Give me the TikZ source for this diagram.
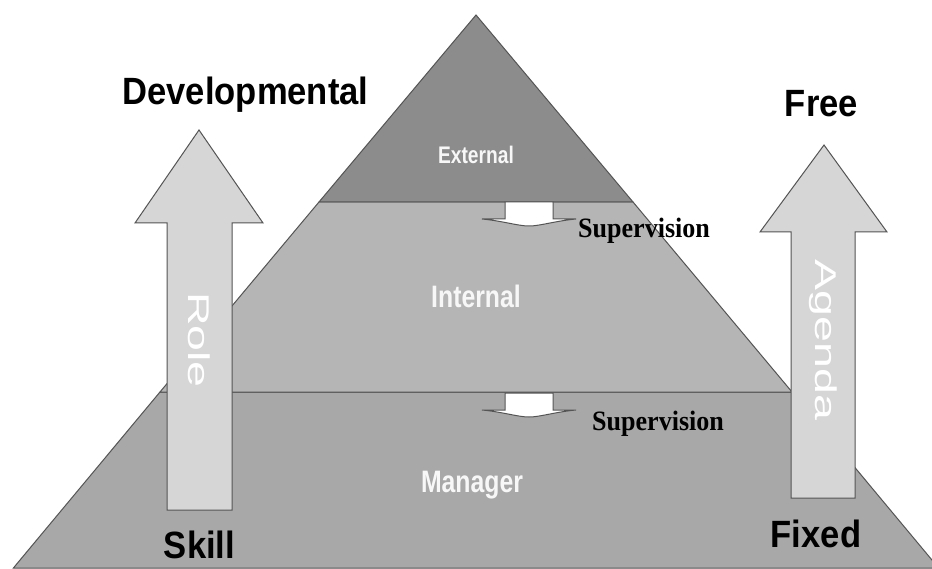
\documentclass[tikz,border=0pt]{standalone}
\usepackage{fontspec}
\usepackage{xcolor}
\usetikzlibrary{positioning}
\setmainfont{Liberation Sans}
\newfontfamily\polefont{Liberation Sans}[FakeStretch=0.91]
\newfontfamily\layerfont{Liberation Sans}[FakeStretch=0.8]
\newfontfamily\axisfont{Liberation Sans}[FakeStretch=1.55]
\newfontfamily\supfont{Liberation Serif}[FakeStretch=0.93]
\definecolor{extgray}{gray}{0.55}
\definecolor{intgray}{gray}{0.71}
\definecolor{mgrgray}{gray}{0.66}
\definecolor{arrowgray}{gray}{0.84}
\definecolor{edgegray}{gray}{0.33}
\definecolor{ghost}{gray}{0.97}

\begin{document}
\begin{tikzpicture}[x=1pt,y=-1pt,
  layerbox/.style={draw=edgegray,line width=1},
  blockarrow/.style={fill=arrowgray,draw=edgegray,line width=1},
  smallarrow/.style={fill=white,draw=edgegray,line width=1},
  polelabel/.style={anchor=base,font=\polefont\bfseries\fontsize{38}{40}\selectfont},
  layerlabel/.style={anchor=base,text=ghost,font=\layerfont\bfseries\fontsize{#1}{#1}\selectfont},
  axislabel/.style={rotate=-90,text=white,font=\axisfont\fontsize{30}{30}\selectfont},
  suplabel/.style={anchor=base west,font=\supfont\bfseries\fontsize{28}{28}\selectfont}]
\tikzstyle{every node}+=[inner sep=0pt]
\clip (0,0) rectangle (932,569);
\fill [white] (0,0) rectangle (932,569);
\filldraw [layerbox,fill=mgrgray] (160,392) -- (792,392) -- (938.6,568) -- (13.4,568) -- cycle;
\filldraw [layerbox,fill=intgray] (319,202) -- (633,202) -- (792,392) -- (160,392) -- cycle;
\filldraw [layerbox,fill=extgray] (476,15) -- (633,202) -- (319,202) -- cycle;
\filldraw [blockarrow] (199,130) -- (263,223) -- (232,223) -- (232,510) -- (167,510) -- (167,223) -- (135,223) -- cycle;
\filldraw [blockarrow] (824,145) -- (887,232) -- (855,232) -- (855,498) -- (791,498) -- (791,232) -- (760,232) -- cycle;
\filldraw [smallarrow] (505,202) -- (553,202) -- (553,219) -- (576,219) .. controls (555,221) and (540,226) .. (529,226) .. controls (518,226) and (503,221) .. (482,219) -- (505,219) -- cycle;
\filldraw [smallarrow] (505,393) -- (553,393) -- (553,410) -- (576,410) .. controls (555,412) and (540,417) .. (529,417) .. controls (518,417) and (503,412) .. (482,410) -- (505,410) -- cycle;
\node (ext) [layerlabel=24] at (476,164) {External};
\node (int) [layerlabel=31] at (476,308) {Internal};
\node (mgr) [layerlabel=31] at (472,492) {Manager};
\node (sup1) [suplabel] at (578,238) {Supervision};
\node (sup2) [suplabel] at (592,430) {Supervision};
\node (dev) [polelabel] at (245.5,105) {Developmental};
\node (free) [polelabel] at (821.5,117) {Free};
\node (skill) [polelabel] at (199.5,558) {Skill};
\node (fixed) [polelabel] at (816,547) {Fixed};
\node (role) [axislabel] at (199,340) {Role};
\node (agenda) [axislabel] at (823,340) {Agenda};
\end{tikzpicture}
\end{document}
